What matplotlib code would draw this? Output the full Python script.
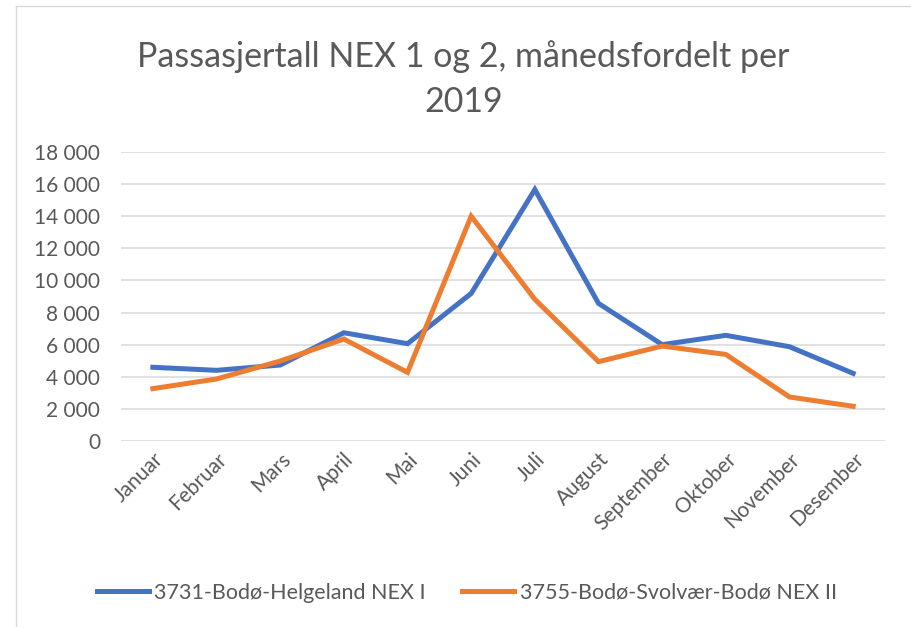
import matplotlib.pyplot as plt
from matplotlib.lines import Line2D
from matplotlib.ticker import FuncFormatter

months = ["Januar", "Februar", "Mars", "April", "Mai", "Juni", "Juli",
          "August", "September", "Oktober", "November", "Desember"]
nex1 = [4590, 4400, 4730, 6740, 6060, 9190, 15660, 8570, 6000, 6580, 5870, 4210]
nex2 = [3260, 3860, 4980, 6350, 4270, 14000, 8820, 4940, 5910, 5390, 2740, 2160]
label1 = "3731-Bodø-Helgeland NEX I"
label2 = "3755-Bodø-Svolvær-Bodø NEX II"
title = "Passasjertall NEX 1 og 2, månedsfordelt per\n2019"

plt.rcParams['font.family'] = ['Lato', 'DejaVu Sans']
text_col = '#595959'

fig = plt.figure(figsize=(9.12, 6.27), dpi=100)
ax = fig.add_axes([0.1327, 0.2967, 0.8377, 0.4609])

x = range(len(months))
ax.plot(x, nex1, color='#4472C4', lw=3.6, label=label1, solid_joinstyle='miter')
ax.plot(x, nex2, color='#ED7D31', lw=3.6, label=label2, solid_joinstyle='miter')

ax.set_xlim(-0.5, len(months) - 0.5)
ax.set_ylim(0, 18000)
ax.set_yticks(range(0, 18001, 2000))
ax.yaxis.set_major_formatter(FuncFormatter(lambda v, p: f"{int(v):,}".replace(",", " ")))
ax.set_xticks(list(x))
ax.set_xticklabels(months, rotation=45, ha='right', rotation_mode='anchor')
ax.tick_params(axis='both', length=0, labelsize=15, colors=text_col)
ax.tick_params(axis='y', pad=15)
ax.tick_params(axis='x', pad=6)
ax.grid(axis='y', color='#d9d9d9', lw=1.1)
ax.set_axisbelow(True)
for s in ax.spines.values():
    s.set_visible(False)

fig.text(0.508, 0.874, title, ha='center', va='center', fontsize=24.5,
         fontweight='normal', color=text_col, linespacing=1.5)

fig.legend(loc='center', bbox_to_anchor=(0.512, 0.055), ncol=2, frameon=False,
           fontsize=15.5, handlelength=2.4, columnspacing=1.7, handletextpad=0.25,
           labelcolor=text_col)

# chart border (top and left visible)
fig.add_artist(Line2D([16 / 912, 1], [1 - 6 / 627] * 2, color='#d9d9d9', lw=1))
fig.add_artist(Line2D([16 / 912] * 2, [0, 1 - 6 / 627], color='#d9d9d9', lw=1))

fig.savefig("out.png", dpi=100, facecolor='white')
